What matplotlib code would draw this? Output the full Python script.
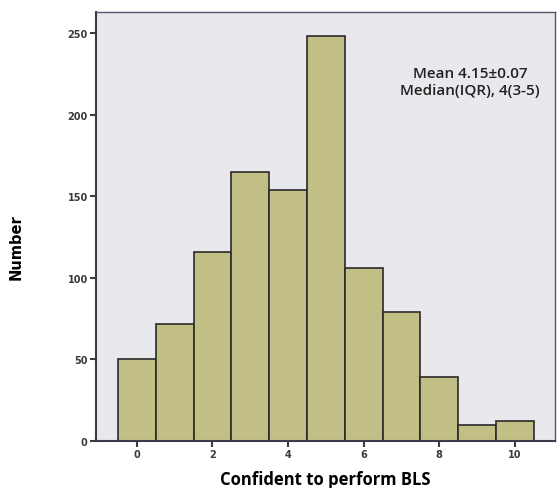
import numpy as np
import matplotlib
matplotlib.use('Agg')
import matplotlib.pyplot as plt

# data
scores = [0, 1, 2, 3, 4, 5, 6, 7, 8, 9, 10]
counts = [50, 72, 116, 165, 154, 248, 106, 79, 39, 10, 12]
x_ticks = [0, 2, 4, 6, 8, 10]
y_ticks = [0, 50, 100, 150, 200, 250]
stats_text = "Mean 4.15\u00b10.07\nMedian(IQR), 4(3-5)"

fig = plt.figure(figsize=(5.57, 4.89), dpi=100)
ax = fig.add_axes([0.1724, 0.0961, 0.824, 0.8773])
ax.set_facecolor('#e9e9ed')

ax.bar(scores, counts, width=1.0, color='#c2bf86', edgecolor='#2a2a2a', linewidth=1.2)

ax.set_xlim(-1.08, 11.06)
ax.set_ylim(0, 263)
ax.set_xticks(x_ticks)
ax.set_yticks(y_ticks)

for side in ['left', 'bottom']:
    ax.spines[side].set_color('#3b3b4a')
    ax.spines[side].set_linewidth(1.5)
for side in ['top', 'right']:
    ax.spines[side].set_color('#55556a')
    ax.spines[side].set_linewidth(1.0)

ax.tick_params(axis='both', length=4, width=1.5, color='#3b3b4a',
               labelsize=7, labelcolor='#3a3a3a', pad=2)
for lab in ax.get_xticklabels() + ax.get_yticklabels():
    lab.set_fontweight('bold')

ax.set_xlabel('Confident to perform BLS', fontsize=12, fontweight='bold',
              family='Open Sans', labelpad=8)
fig.text(0.029, 0.495, 'Number', rotation=90, fontsize=10.5, fontweight='bold',
         ha='center', va='center')

ax.text(0.815, 0.838, stats_text, transform=ax.transAxes, ha='center', va='center',
        fontsize=11, family='Open Sans', fontweight='semibold', color='#222222',
        linespacing=1.35)

fig.savefig('out.png', dpi=100)
